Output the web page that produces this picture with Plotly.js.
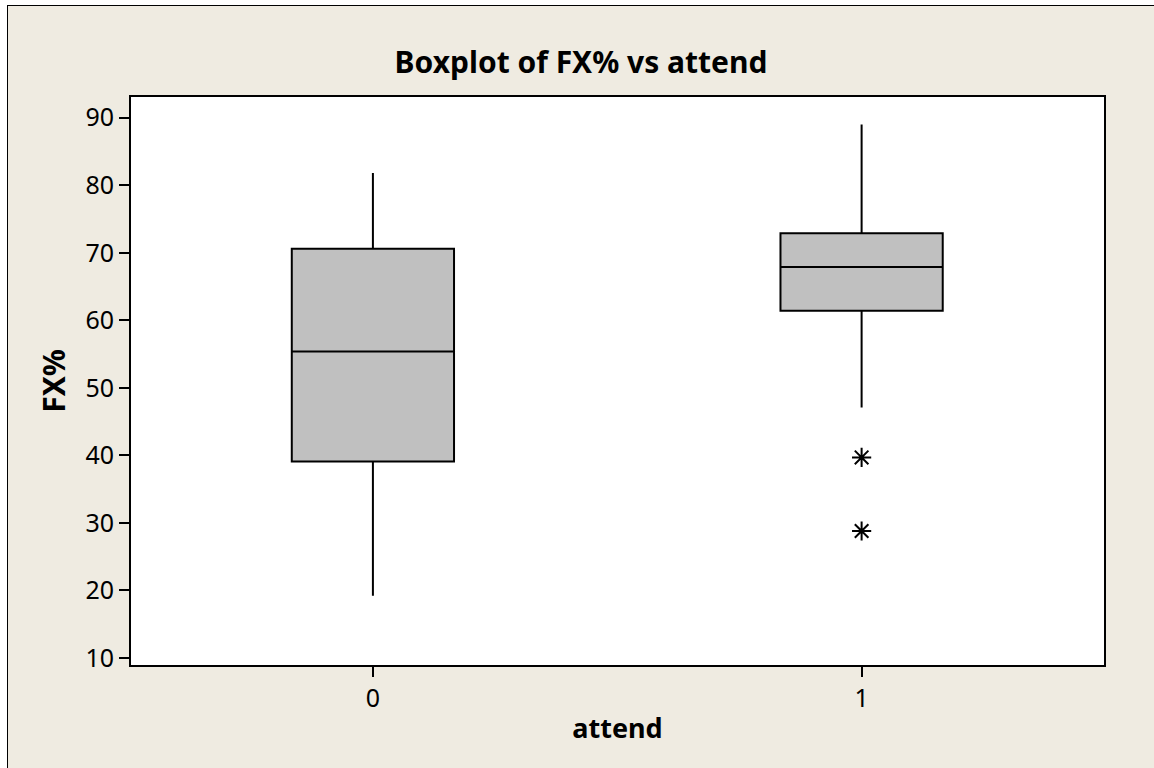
<!DOCTYPE html>
<html>
<head>
<meta charset="utf-8">
<script src="https://cdn.plot.ly/plotly-3.0.1.min.js"></script>
<style>
  html, body { margin: 0; padding: 0; background: #ffffff; }
  #wrap { position: absolute; left: 7px; top: 5px; width: 1147px; height: 763px;
          border-left: 1px solid #000; border-top: 1px solid #000; box-sizing: border-box; overflow: hidden; }
  #chart { width: 1146px; height: 762px; }
</style>
</head>
<body>
<div id="wrap"><div id="chart"></div></div>
<script>
// Data (Minitab boxplot of FX% by attend)
const categories = [0, 1];
const tickLabels = ["0", "1"];
const q1Values = [39.1, 61.4];
const medianValues = [55.4, 67.9];
const q3Values = [70.6, 72.9];
const lowerWhisker = [19.2, 47.1];
const upperWhisker = [81.8, 89.0];
const outlierX = [1, 1];
const outlierY = [39.7, 28.8];

const FONT = "Noto Sans, DejaVu Sans, sans-serif";

const boxTrace = {
  type: 'box',
  x: categories,
  q1: q1Values,
  median: medianValues,
  q3: q3Values,
  lowerfence: lowerWhisker,
  upperfence: upperWhisker,
  width: 0.332,
  whiskerwidth: 0,
  boxpoints: false,
  fillcolor: '#C0C0C0',
  line: { color: '#000000', width: 2 },
  hoverinfo: 'skip',
  showlegend: false
};

const outlierTrace = {
  type: 'scatter',
  mode: 'markers',
  x: outlierX,
  y: outlierY,
  marker: { symbol: 'asterisk-open', size: 16, color: '#000000', line: { color: '#000000', width: 2 } },
  hoverinfo: 'skip',
  showlegend: false
};

const layout = {
  width: 1146,
  height: 762,
  paper_bgcolor: '#EFEBE1',
  plot_bgcolor: '#FFFFFF',
  margin: { l: 123, r: 50, t: 91, b: 103 },
  font: { family: FONT, color: '#000000', size: 24 },
  title: {
    text: '<b>Boxplot of FX% vs attend</b>',
    font: { family: FONT, size: 30, color: '#000000' },
    x: 0.5, xanchor: 'center',
    y: 1 - 56 / 762, yanchor: 'middle'
  },
  xaxis: {
    range: [-0.495, 1.496],
    tickvals: categories,
    ticktext: tickLabels,
    ticks: 'outside', ticklen: 10, tickwidth: 2, tickcolor: '#000',
    showgrid: false, zeroline: false,
    showline: true, mirror: true, linecolor: '#000', linewidth: 2,
    tickfont: { family: FONT, size: 25, color: '#000' },
    title: { text: '<b>attend</b>', font: { family: FONT, size: 27, color: '#000' }, standoff: 6 }
  },
  yaxis: {
    range: [8.96, 93.07],
    tickvals: [10, 20, 30, 40, 50, 60, 70, 80, 90],
    ticks: 'outside', ticklen: 10, tickwidth: 2, tickcolor: '#000',
    showgrid: false, zeroline: false,
    showline: true, mirror: true, linecolor: '#000', linewidth: 2,
    tickfont: { family: FONT, size: 25, color: '#000' },
    title: { text: '<b>FX%</b>', font: { family: FONT, size: 30, color: '#000' }, standoff: 11 }
  }
};

Plotly.newPlot('chart', [boxTrace, outlierTrace], layout, { displayModeBar: false, staticPlot: true });
</script>
</body>
</html>
